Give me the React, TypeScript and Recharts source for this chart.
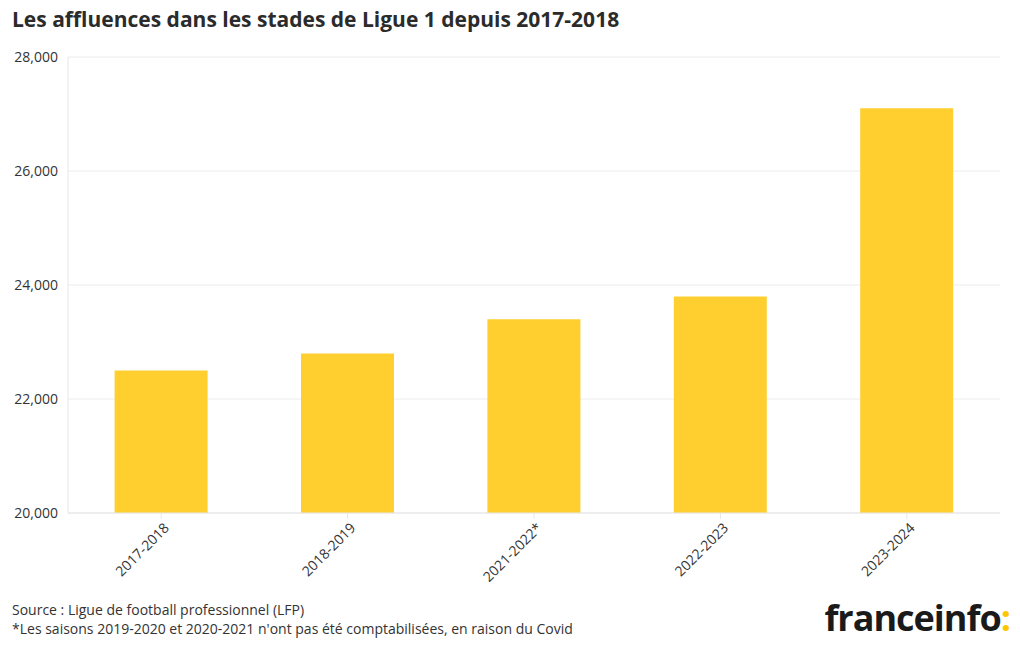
import React from 'react';
import { BarChart, Bar, XAxis, YAxis, CartesianGrid } from 'recharts';

const seasons = ['2017-2018', '2018-2019', '2021-2022*', '2022-2023', '2023-2024'];
const attendance = [22500, 22800, 23400, 23800, 27100];
const yTicks = [20000, 22000, 24000, 26000, 28000];

const data = seasons.map((season, i) => ({ season, value: attendance[i] }));

const FONT = '"Open Sans", "Noto Sans", sans-serif';
const YELLOW = '#FECF2F';

const XTick = ({ x, y, payload }: any) => (
    <g transform={`translate(${x + 6},${y + 5})`}>
        <text
            textAnchor="end"
            transform="rotate(-45)"
            fill="#333"
            fontSize={14}
            fontFamily={FONT}
            dy={4}
        >
            {payload.value}
        </text>
    </g>
);

const App: React.FC = () => {
    return (
        <div
            style={{
                position: 'absolute',
                left: 0,
                top: 0,
                width: 1020,
                height: 650,
                background: '#fff',
                fontFamily: FONT,
                overflow: 'hidden'
            }}
        >
            <div
                style={{
                    position: 'absolute',
                    left: 12,
                    top: 5,
                    fontSize: 21,
                    fontWeight: 700,
                    color: '#2b2b2b'
                }}
            >
                Les affluences dans les stades de Ligue 1 depuis 2017-2018
            </div>
            <div style={{ position: 'absolute', left: 0, top: 0 }}>
                <BarChart
                    width={1020}
                    height={650}
                    data={data}
                    margin={{ top: 57, right: 20, bottom: 67, left: 0 }}
                    barCategoryGap="25%"
                >
                    <CartesianGrid vertical={false} stroke="#ececec" />
                    <XAxis
                        dataKey="season"
                        height={70}
                        interval={0}
                        tick={<XTick />}
                        tickSize={6}
                        axisLine={{ stroke: '#e6e6e6' }}
                        tickLine={{ stroke: '#e6e6e6' }}
                    />
                    <YAxis
                        width={68}
                        domain={[20000, 28000]}
                        ticks={yTicks}
                        allowDataOverflow
                        tickFormatter={(v: number) => v.toLocaleString('en-US')}
                        tick={{ fill: '#333', fontSize: 14, fontFamily: FONT }}
                        tickLine={false}
                        tickSize={8}
                        axisLine={{ stroke: '#e6e6e6' }}
                    />
                    <Bar dataKey="value" fill={YELLOW} isAnimationActive={false} />
                </BarChart>
            </div>
            <div
                style={{
                    position: 'absolute',
                    left: 12,
                    top: 600,
                    fontSize: 14,
                    lineHeight: '19px',
                    color: '#333'
                }}
            >
                Source : Ligue de football professionnel (LFP)
                <br />
                *Les saisons 2019-2020 et 2020-2021 n'ont pas été comptabilisées, en raison du Covid
            </div>
            <div
                style={{
                    position: 'absolute',
                    right: 10,
                    top: 593,
                    fontSize: 36,
                    fontWeight: 700,
                    color: '#1a1a1a',
                    letterSpacing: -1
                }}
            >
                franceinfo<span style={{ color: '#FFC600' }}>:</span>
            </div>
        </div>
    );
};

export default App;
